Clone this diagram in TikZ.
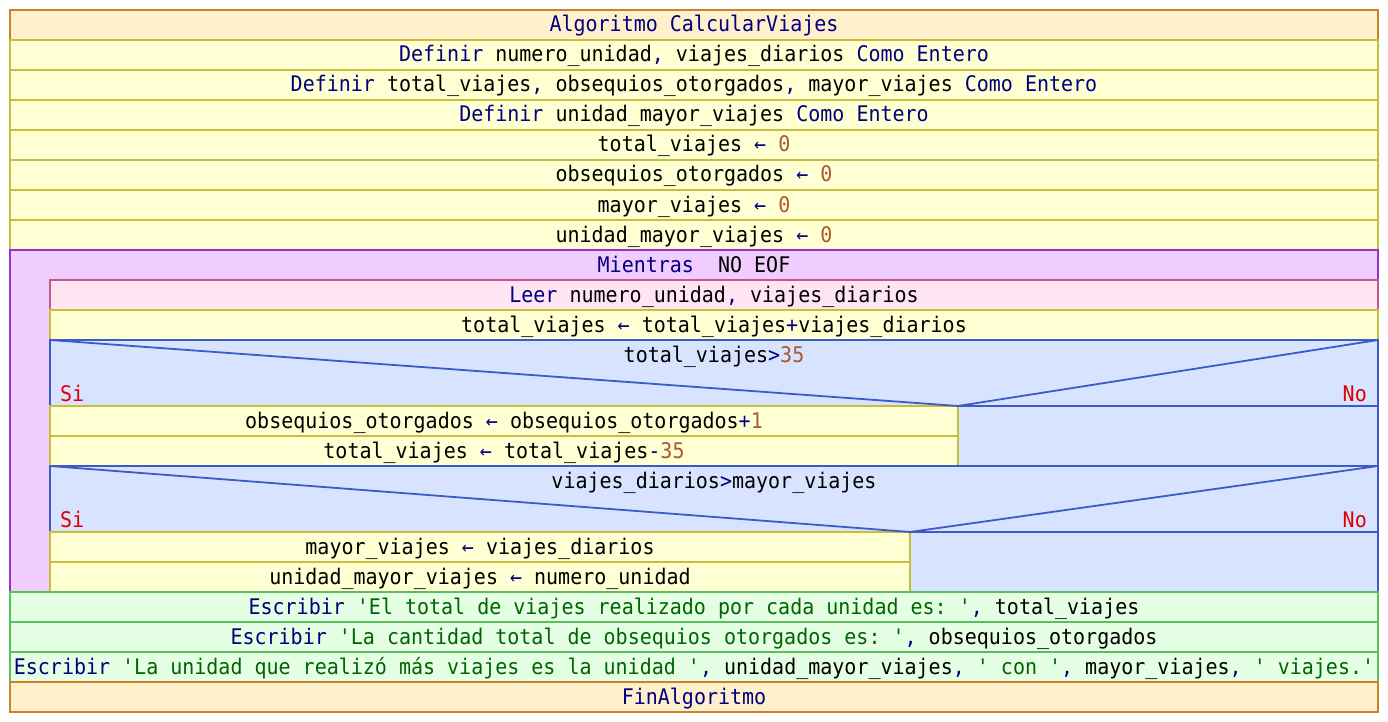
\documentclass[tikz,border=0pt]{standalone}
\usepackage{fontspec}
\setmonofont[FakeStretch=0.93]{DejaVu Sans Mono}
\definecolor{kwc}{RGB}{0,0,128}
\definecolor{numc}{RGB}{170,90,45}
\definecolor{strc}{RGB}{0,100,0}
\definecolor{sinoc}{RGB}{220,0,0}
\definecolor{algF}{RGB}{255,240,204}\definecolor{algD}{RGB}{200,130,40}
\definecolor{proF}{RGB}{255,255,212}\definecolor{proD}{RGB}{200,190,60}
\definecolor{whiF}{RGB}{240,204,255}\definecolor{whiD}{RGB}{150,50,200}
\definecolor{reaF}{RGB}{255,228,242}\definecolor{reaD}{RGB}{192,90,140}
\definecolor{ifcF}{RGB}{216,228,255}\definecolor{ifcD}{RGB}{60,90,200}
\definecolor{wriF}{RGB}{228,255,228}\definecolor{wriD}{RGB}{90,190,90}
\newcommand{\kwd}[1]{\textcolor{kwc}{#1}}
\newcommand{\pnum}[1]{\textcolor{numc}{#1}}
\newcommand{\pstr}[1]{\textcolor{strc}{#1}}
\newcommand{\asg}{\textcolor{kwc}{←}}
\tikzset{
  pfont/.style={font=\ttfamily\fontsize{21.5pt}{24pt}\selectfont},
  nsbox/.style={pfont, inner sep=0pt, outer sep=0pt, line width=1.8pt,
    text height=17pt, text depth=3pt, minimum height=30pt, anchor=center},
  algbox/.style={nsbox, fill=algF, draw=algD, text=kwc},
  probox/.style={nsbox, fill=proF, draw=proD},
  whibox/.style={nsbox, fill=whiF, draw=whiD},
  reabox/.style={nsbox, fill=reaF, draw=reaD},
  ifcbox/.style={nsbox, fill=ifcF, draw=ifcD},
  wribox/.style={nsbox, fill=wriF, draw=wriD},
  lbl/.style={pfont, inner sep=0pt, anchor=base},
  sino/.style={pfont, inner sep=0pt, text=sinoc},
  diag/.style={draw=ifcD, line width=1.8pt},
}
\begin{document}
\begin{tikzpicture}[x=1pt,y=-1pt]
\useasboundingbox[fill=white] (0,0) rectangle (1388,722);
% top definitions
\node[algbox, minimum width=1368pt] (r1) at (694,25) {Algoritmo CalcularViajes};
\node[probox, minimum width=1368pt] (r2) at (694,55) {\kwd{Definir} numero\_unidad\kwd{,} viajes\_diarios \kwd{Como Entero}};
\node[probox, minimum width=1368pt] (r3) at (694,85) {\kwd{Definir} total\_viajes\kwd{,} obsequios\_otorgados\kwd{,} mayor\_viajes \kwd{Como Entero}};
\node[probox, minimum width=1368pt] (r4) at (694,115) {\kwd{Definir} unidad\_mayor\_viajes \kwd{Como Entero}};
\node[probox, minimum width=1368pt] (r5) at (694,145) {total\_viajes \asg{} \pnum{0}};
\node[probox, minimum width=1368pt] (r6) at (694,175) {obsequios\_otorgados \asg{} \pnum{0}};
\node[probox, minimum width=1368pt] (r7) at (694,205) {mayor\_viajes \asg{} \pnum{0}};
\node[probox, minimum width=1368pt] (r8) at (694,235) {unidad\_mayor\_viajes \asg{} \pnum{0}};
% while loop
\node[whibox, minimum width=1368pt, minimum height=342pt] (wh) at (694,421) {};
\node[lbl] (whl) at (694,272) {\kwd{Mientras}\ \ NO EOF};
\node[reabox, minimum width=1328pt] (le) at (714,295) {\kwd{Leer} numero\_unidad\kwd{,} viajes\_diarios};
\node[probox, minimum width=1328pt] (tv) at (714,325) {total\_viajes \asg{} total\_viajes\kwd{+}viajes\_diarios};
% first if
\node[ifcbox, minimum width=1328pt, minimum height=66pt] (if1h) at (714,373) {};
\node[ifcbox, minimum width=420pt, minimum height=60pt] (if1n) at (1168,436) {};
\node[probox, minimum width=908pt] (y1) at (504,421) {obsequios\_otorgados \asg{} obsequios\_otorgados\kwd{+}\pnum{1}};
\node[probox, minimum width=908pt] (y2) at (504,451) {total\_viajes \asg{} total\_viajes\kwd{-}\pnum{35}};
\draw[diag] (if1h.north west) -- (if1n.north west) -- (if1h.north east);
\node[lbl] (c1) at (714,362) {total\_viajes\kwd{>}\pnum{35}};
\node[sino, anchor=base west] (si1) at (60,401) {Si};
\node[sino, anchor=base east] (no1) at (1367,401) {No};
% second if
\node[ifcbox, minimum width=1328pt, minimum height=66pt] (if2h) at (714,499) {};
\node[ifcbox, minimum width=468pt, minimum height=60pt] (if2n) at (1144,562) {};
\node[probox, minimum width=860pt] (y3) at (480,547) {mayor\_viajes \asg{} viajes\_diarios};
\node[probox, minimum width=860pt] (y4) at (480,577) {unidad\_mayor\_viajes \asg{} numero\_unidad};
\draw[diag] (if2h.north west) -- (if2n.north west) -- (if2h.north east);
\node[lbl] (c2) at (714,488) {viajes\_diarios\kwd{>}mayor\_viajes};
\node[sino, anchor=base west] (si2) at (60,527) {Si};
\node[sino, anchor=base east] (no2) at (1367,527) {No};
% output
\node[wribox, minimum width=1368pt] (w1) at (694,607) {\kwd{Escribir} \pstr{'El total de viajes realizado por cada unidad es: '}\kwd{,} total\_viajes};
\node[wribox, minimum width=1368pt] (w2) at (694,637) {\kwd{Escribir} \pstr{'La cantidad total de obsequios otorgados es: '}\kwd{,} obsequios\_otorgados};
\node[wribox, minimum width=1368pt] (w3) at (694,667) {\kwd{Escribir} \pstr{'La unidad que realizó más viajes es la unidad '}\kwd{,} unidad\_mayor\_viajes\kwd{,} \pstr{' con '}\kwd{,} mayor\_viajes\kwd{,} \pstr{' viajes.'}};
\node[algbox, minimum width=1368pt] (fin) at (694,697) {FinAlgoritmo};
\end{tikzpicture}
\end{document}
